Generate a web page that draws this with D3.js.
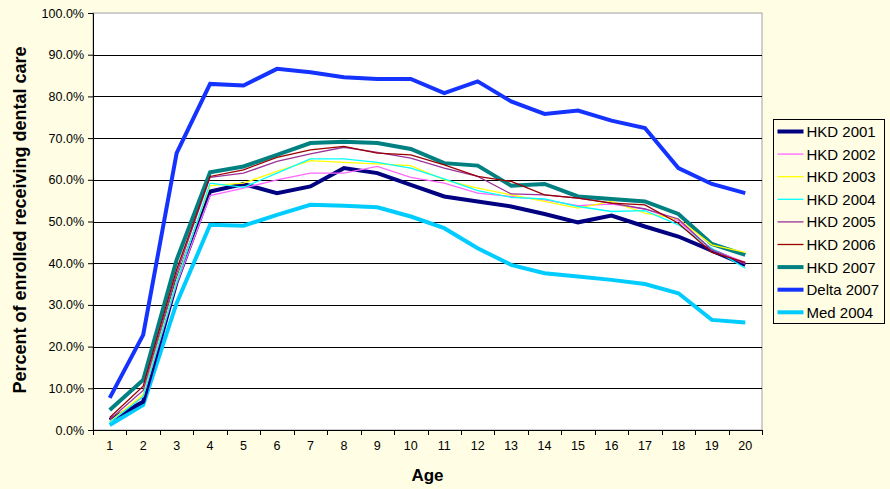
<!DOCTYPE html>
<html>
<head>
<meta charset="utf-8">
<script src="https://cdn.jsdelivr.net/npm/d3@7"></script>
<style>
  body { margin: 0; background: #fffde3; }
  svg { display: block; font-family: "Liberation Sans", Arial, sans-serif; }
</style>
</head>
<body>
<div id="chart"></div>
<script>
var svgWidth = 890;
var svgHeight = 489;

var margin = { top: 13, right: 128, bottom: 59, left: 93 };
var width = 762 - margin.left;
var height = 430 - margin.top;

// data (percent)
var ages = d3.range(1, 21);
var yTicks = [0, 10, 20, 30, 40, 50, 60, 70, 80, 90, 100];

var hkd2001 = [2.4, 6.8, 35.5, 57.2, 59.0, 56.8, 58.4, 62.8, 61.6, 58.8, 56.0, 54.8, 53.6, 51.8, 49.8, 51.4, 48.8, 46.4, 43.0, 39.6];
var hkd2002 = [2.0, 8.0, 35.0, 56.2, 58.0, 60.0, 61.6, 61.6, 63.2, 60.6, 59.2, 56.8, 56.0, 55.2, 53.8, 54.2, 53.0, 50.2, 43.2, 40.2];
var hkd2003 = [2.0, 8.5, 36.0, 58.6, 59.2, 62.0, 64.6, 64.2, 63.8, 63.4, 60.0, 58.0, 56.4, 54.8, 53.2, 54.8, 52.0, 50.6, 44.4, 42.6];
var hkd2004 = [1.8, 8.0, 35.5, 59.2, 58.2, 61.6, 65.0, 65.0, 64.2, 62.8, 60.2, 57.4, 55.8, 55.4, 53.6, 52.4, 52.6, 49.2, 43.6, 38.8];
var hkd2005 = [2.5, 9.5, 37.5, 60.6, 61.6, 64.4, 66.2, 67.8, 66.6, 65.2, 62.8, 60.8, 56.6, 56.4, 55.6, 54.4, 53.0, 50.6, 43.2, 39.8];
var hkd2006 = [3.0, 10.5, 38.5, 60.8, 62.4, 65.4, 67.2, 68.0, 66.4, 66.0, 63.6, 60.8, 59.6, 56.4, 55.6, 54.4, 54.0, 49.6, 42.6, 40.2];
var hkd2007 = [4.8, 12.0, 40.8, 61.8, 63.2, 66.0, 68.8, 69.1, 68.8, 67.4, 64.0, 63.4, 58.6, 59.0, 56.0, 55.4, 54.8, 51.8, 44.6, 42.0];
var delta2007 = [7.7, 22.8, 66.4, 83.0, 82.6, 86.6, 85.8, 84.6, 84.2, 84.2, 80.8, 83.6, 78.8, 75.8, 76.6, 74.2, 72.4, 62.8, 59.0, 56.8];
var med2004 = [1.2, 6.0, 30.4, 49.2, 49.0, 51.6, 54.0, 53.8, 53.4, 51.2, 48.4, 43.6, 39.6, 37.6, 36.8, 36.0, 35.0, 32.8, 26.4, 25.8];

var seriesNames = ["HKD 2001", "HKD 2002", "HKD 2003", "HKD 2004", "HKD 2005", "HKD 2006", "HKD 2007", "Delta 2007", "Med 2004"];
var seriesValues = [hkd2001, hkd2002, hkd2003, hkd2004, hkd2005, hkd2006, hkd2007, delta2007, med2004];
var seriesColors = ["#000080", "#ff66ff", "#ffff00", "#00ffff", "#993399", "#990000", "#008080", "#1433ff", "#00ccff"];
var seriesWidths = [4, 1.3, 1.3, 1.3, 1.3, 1.3, 4, 4, 4];
// drawing order: thin ones on top of thick ones roughly like the original
var drawOrder = [8, 7, 0, 6, 1, 2, 3, 4, 5];

var svg = d3.select("#chart")
  .append("svg")
  .attr("width", svgWidth)
  .attr("height", svgHeight);

var chartGroup = svg.append("g")
  .attr("transform", `translate(${margin.left}, ${margin.top})`);

// plot area
chartGroup.append("rect")
  .attr("width", width)
  .attr("height", height)
  .attr("fill", "#ffffff")
  .attr("stroke", "#a0a0a0")
  .attr("stroke-width", 1);

var xScale = d3.scaleBand()
  .domain(ages)
  .range([0, width]);

var yScale = d3.scaleLinear()
  .domain([0, 100])
  .range([height, 0]);

// gridlines
chartGroup.selectAll(".grid")
  .data(yTicks.slice(1, -1))
  .enter()
  .append("line")
  .attr("x1", 0)
  .attr("x2", width)
  .attr("y1", d => Math.round(yScale(d)) + 0.5)
  .attr("y2", d => Math.round(yScale(d)) + 0.5)
  .attr("stroke", "#000")
  .attr("stroke-width", 1);

// y axis
var leftAxis = d3.axisLeft(yScale)
  .tickValues(yTicks)
  .tickSize(5)
  .tickPadding(4)
  .tickFormat(d => d.toFixed(1) + "%");

var yAxis = chartGroup.append("g").call(leftAxis);
yAxis.select(".domain").attr("stroke", "#000");
yAxis.selectAll("text").attr("font-size", 12.5).attr("fill", "#000")
  .attr("font-family", "Liberation Sans, Arial, sans-serif");

// x axis, ticks between categories
var bottomAxis = d3.axisBottom(xScale).tickSize(0).tickPadding(11);
var xAxis = chartGroup.append("g")
  .attr("transform", `translate(0, ${height})`)
  .call(bottomAxis);
xAxis.select(".domain").attr("stroke", "#000");
xAxis.selectAll("text").attr("font-size", 12.5).attr("fill", "#000")
  .attr("font-family", "Liberation Sans, Arial, sans-serif");
xAxis.selectAll(".sep")
  .data(d3.range(0, 21))
  .enter()
  .append("line")
  .attr("x1", d => Math.round(d * xScale.step()) + 0.5)
  .attr("x2", d => Math.round(d * xScale.step()) + 0.5)
  .attr("y1", 0)
  .attr("y2", 5)
  .attr("stroke", "#000");

// lines
var line = d3.line()
  .x((d, i) => xScale(ages[i]) + xScale.bandwidth() / 2)
  .y(d => yScale(d));

drawOrder.forEach(function(k) {
  chartGroup.append("path")
    .datum(seriesValues[k])
    .attr("fill", "none")
    .attr("stroke", seriesColors[k])
    .attr("stroke-width", seriesWidths[k])
    .attr("stroke-linejoin", "miter")
    .attr("d", line);
});

// axis titles
svg.append("text")
  .attr("transform", "rotate(-90)")
  .attr("x", -220)
  .attr("y", 26)
  .attr("text-anchor", "middle")
  .attr("font-size", 18)
  .attr("font-weight", "bold")
  .text("Percent of enrolled receiving dental care");

svg.append("text")
  .attr("x", margin.left + width / 2)
  .attr("y", 481)
  .attr("text-anchor", "middle")
  .attr("font-size", 17)
  .attr("font-weight", "bold")
  .text("Age");

// legend
var legend = svg.append("g").attr("transform", "translate(773.5, 119.5)");
legend.append("rect")
  .attr("width", 111)
  .attr("height", 204)
  .attr("fill", "#fffde3")
  .attr("stroke", "#000");

var rows = legend.selectAll(".row")
  .data(seriesNames)
  .enter()
  .append("g")
  .attr("transform", (d, i) => `translate(0, ${12 + i * 22.6})`);

rows.append("line")
  .attr("x1", 4)
  .attr("x2", 30)
  .attr("stroke", (d, i) => seriesColors[i])
  .attr("stroke-width", (d, i) => seriesWidths[i]);

rows.append("text")
  .attr("x", 33)
  .attr("y", 5.5)
  .attr("font-size", 15)
  .text(d => d);
</script>
</body>
</html>
